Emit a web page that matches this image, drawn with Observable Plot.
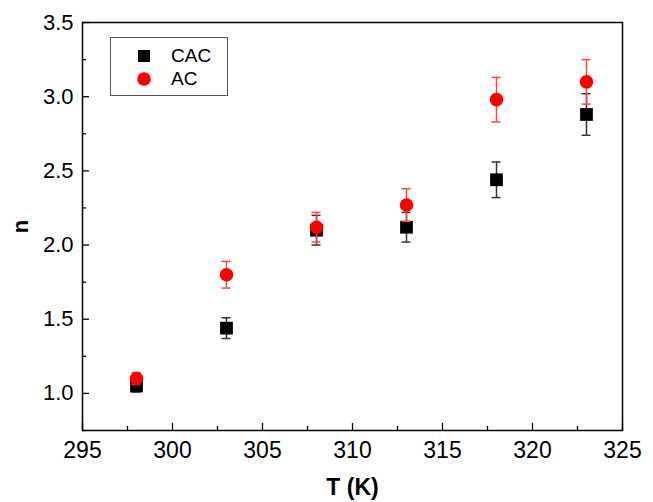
<!DOCTYPE html>
<html>
<head>
<meta charset="utf-8">
<script src="https://cdn.jsdelivr.net/npm/d3@7"></script>
<script src="https://cdn.jsdelivr.net/npm/@observablehq/plot@0.6"></script>
<style>
  body { margin: 0; background: #fff; font-family: "Liberation Sans", Arial, sans-serif; }
  #wrap { position: relative; width: 653px; height: 502px; }
  g[aria-label="x-axis label"] text, g[aria-label="y-axis label"] text { font-weight: bold; }
  #legend { position: absolute; left: 110px; top: 37px; width: 116px; height: 57px;
    border: 1.2px solid #555; background: #fff; font-size: 19px; }
  #legend .row { position: absolute; left: 0; display: flex; align-items: center; }
</style>
</head>
<body>
<div id="wrap"></div>
<script>
const temps = [298, 303, 308, 313, 318, 323];
const cacN = [1.05, 1.44, 2.10, 2.12, 2.44, 2.88];
const cacErr = [0.04, 0.07, 0.10, 0.10, 0.12, 0.14];
const acN = [1.10, 1.80, 2.12, 2.27, 2.98, 3.10];
const acErr = [0.04, 0.09, 0.10, 0.11, 0.15, 0.15];
const xTicks = [295, 300, 305, 310, 315, 320, 325];
const xMinor = [297.5, 302.5, 307.5, 312.5, 317.5, 322.5];
const yTicks = [1.0, 1.5, 2.0, 2.5, 3.0, 3.5];
const yMinor = [0.75, 1.25, 1.75, 2.25, 2.75, 3.25];

const cac = temps.map((t, i) => ({T: t, n: cacN[i], e: cacErr[i]}));
const ac = temps.map((t, i) => ({T: t, n: acN[i], e: acErr[i]}));
const capW = 0.25;

const chart = Plot.plot({
  width: 653,
  height: 502,
  marginLeft: 82,
  marginRight: 31,
  marginTop: 22,
  marginBottom: 72,
  style: {fontFamily: "'Liberation Sans', Arial, sans-serif", fontSize: "22px", color: "black", background: "white"},
  x: {domain: [295, 325]},
  y: {domain: [0.75, 3.5]},
  marks: [
    Plot.axisX({ticks: xTicks, tickSize: -7, text: null, label: null, strokeWidth: 1.3}),
    Plot.axisX({ticks: xMinor, tickSize: -4, text: null, label: null, strokeWidth: 1.3}),
    Plot.axisX({ticks: xTicks, tickSize: 0, tickPadding: 11, tickFormat: d => String(d),
      label: "T (K)", labelAnchor: "center", labelOffset: 64, labelArrow: "none", fontSize: 23}),
    Plot.axisY({ticks: yTicks, tickSize: -7, text: null, label: null, strokeWidth: 1.3}),
    Plot.axisY({ticks: yMinor, tickSize: -4, text: null, label: null, strokeWidth: 1.3}),
    Plot.axisY({ticks: yTicks, tickSize: 0, tickPadding: 9, tickFormat: d => d.toFixed(1),
      label: "n", labelAnchor: "center", labelOffset: 70, labelArrow: "none", fontSize: 22}),
    Plot.frame({stroke: "black", strokeWidth: 1.5}),
    // CAC error bars
    Plot.ruleX(cac, {x: "T", y1: d => d.n - d.e, y2: d => d.n + d.e, stroke: "#333", strokeWidth: 1.5}),
    Plot.ruleY(cac, {y: d => d.n - d.e, x1: d => d.T - capW, x2: d => d.T + capW, stroke: "#333", strokeWidth: 1.5}),
    Plot.ruleY(cac, {y: d => d.n + d.e, x1: d => d.T - capW, x2: d => d.T + capW, stroke: "#333", strokeWidth: 1.5}),
    Plot.dot(cac, {x: "T", y: "n", symbol: "square", r: 7.2, fill: "black", stroke: "none"}),
    // AC error bars
    Plot.ruleX(ac, {x: "T", y1: d => d.n - d.e, y2: d => d.n + d.e, stroke: "#f44", strokeWidth: 1.5}),
    Plot.ruleY(ac, {y: d => d.n - d.e, x1: d => d.T - capW, x2: d => d.T + capW, stroke: "#f44", strokeWidth: 1.5}),
    Plot.ruleY(ac, {y: d => d.n + d.e, x1: d => d.T - capW, x2: d => d.T + capW, stroke: "#f44", strokeWidth: 1.5}),
    Plot.dot(ac, {x: "T", y: "n", r: 6.8, fill: "red", stroke: "none"})
  ]
});

const wrap = document.getElementById("wrap");
wrap.appendChild(chart);

const legend = document.createElement("div");
legend.id = "legend";
legend.innerHTML = `
  <div class="row" style="top:7px;left:27px;">
    <svg width="12" height="12"><rect x="0" y="0" width="12" height="12" fill="black"/></svg>
    <span style="margin-left:21px;">CAC</span>
  </div>
  <div class="row" style="top:30px;left:26px;">
    <svg width="14" height="14"><circle cx="7" cy="7" r="6.8" fill="red"/></svg>
    <span style="margin-left:20px;">AC</span>
  </div>`;
wrap.appendChild(legend);
</script>
</body>
</html>
